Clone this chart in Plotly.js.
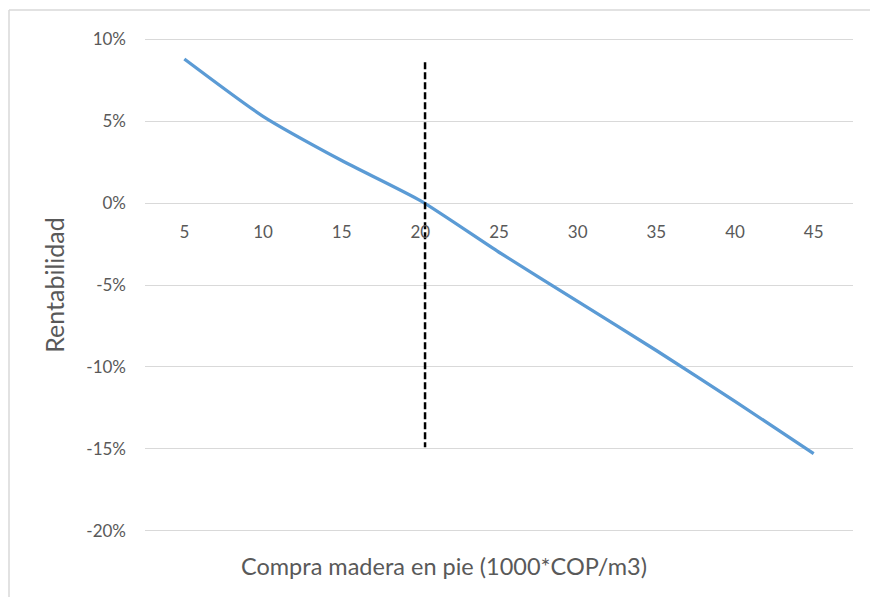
<!DOCTYPE html>
<html>
<head>
<meta charset="utf-8">
<script src="https://cdn.plot.ly/plotly-3.0.1.min.js"></script>
<style>
  html, body { margin: 0; padding: 0; background: #ffffff; }
  #chart { width: 870px; height: 597px; }
</style>
</head>
<body>
<div id="chart"></div>
<script>
// Data
var categories = [5, 10, 15, 20, 25, 30, 35, 40, 45];
var rentabilidad = [0.088, 0.053, 0.026, 0.0015, -0.030, -0.060, -0.090, -0.121, -0.153];
var equilibrioX = [20.3, 20.3];
var equilibrioY = [0.086, -0.149];
var yTicks = [-0.20, -0.15, -0.10, -0.05, 0, 0.05, 0.10];
var yTickText = ['-20%', '-15%', '-10%', '-5%', '0%', '5%', '10%'];
var xTitle = 'Compra madera en pie (1000*COP/m3)';
var yTitle = 'Rentabilidad';

var textColor = '#595959';
var fontFamily = 'Lato, "Open Sans", sans-serif';

var traces = [
  {
    x: categories,
    y: rentabilidad,
    type: 'scatter',
    mode: 'lines',
    line: { color: '#5B9BD5', width: 3.3, shape: 'spline', smoothing: 0.6 },
    hoverinfo: 'x+y',
    showlegend: false
  },
  {
    x: equilibrioX,
    y: equilibrioY,
    type: 'scatter',
    mode: 'lines',
    line: { color: '#000000', width: 2.5, dash: '7px,3px' },
    hoverinfo: 'skip',
    showlegend: false
  }
];

var layout = {
  width: 870,
  height: 597,
  margin: { l: 145, r: 17, t: 38, b: 65 },
  paper_bgcolor: '#ffffff',
  plot_bgcolor: '#ffffff',
  font: { family: fontFamily, color: textColor, size: 17 },
  showlegend: false,
  xaxis: {
    range: [2.5, 47.5],
    tickmode: 'array',
    tickvals: categories,
    ticktext: categories.map(String),
    showgrid: false,
    zeroline: false,
    showline: false,
    ticks: '',
    anchor: 'free',
    position: 2 / 3,
    ticklabelstandoff: 17,
    tickfont: { family: fontFamily, size: 17, color: textColor },
    fixedrange: true
  },
  yaxis: {
    range: [-0.2008, 0.1008],
    tickmode: 'array',
    tickvals: yTicks,
    ticktext: yTickText,
    showgrid: true,
    gridcolor: '#d9d9d9',
    gridwidth: 1,
    zeroline: false,
    showline: false,
    ticks: '',
    ticklabelstandoff: 18,
    tickfont: { family: fontFamily, size: 17, color: textColor },
    title: { text: yTitle, font: { family: fontFamily, size: 25, color: textColor }, standoff: 14 },
    automargin: false,
    fixedrange: true
  },
  annotations: [
    {
      text: xTitle,
      xref: 'paper', yref: 'paper',
      x: (444 - 145) / 708, y: (532 - 566) / 494,
      xanchor: 'center', yanchor: 'middle',
      showarrow: false,
      font: { family: fontFamily, size: 23.5, color: textColor }
    }
  ],
  shapes: [
    {
      type: 'line', xref: 'paper', yref: 'paper',
      x0: (9 - 145) / 708, x1: 1.05, y0: (532 - 10) / 494, y1: (532 - 10) / 494,
      line: { color: '#d9d9d9', width: 1.5 }
    },
    {
      type: 'line', xref: 'paper', yref: 'paper',
      x0: (9 - 145) / 708, x1: (9 - 145) / 708, y0: (532 - 10) / 494, y1: -0.2,
      line: { color: '#d9d9d9', width: 1.5 }
    }
  ]
};

Plotly.newPlot('chart', traces, layout, { displayModeBar: false, staticPlot: true });
</script>
</body>
</html>
